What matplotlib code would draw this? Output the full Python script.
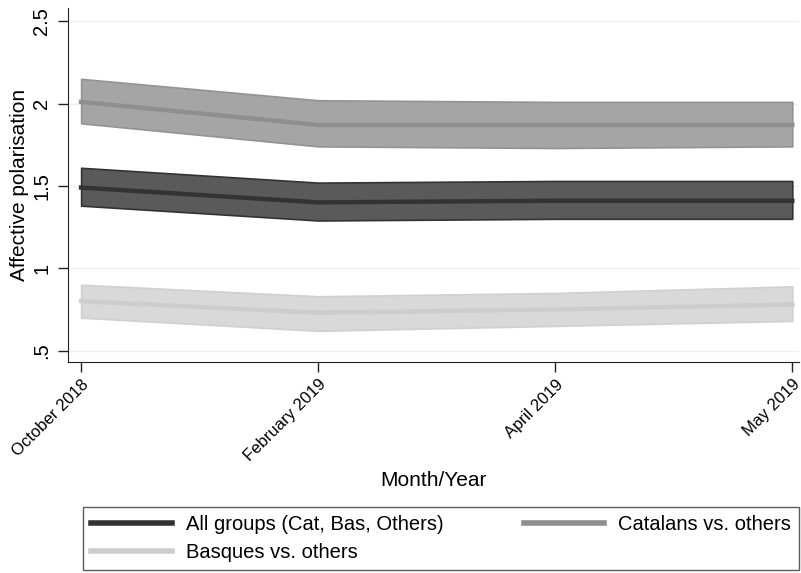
import matplotlib
matplotlib.use("Agg")
import matplotlib.pyplot as plt
from matplotlib.lines import Line2D
import numpy as np

plt.rcParams['font.family'] = ['Liberation Sans', 'DejaVu Sans']

months = ["October 2018", "February 2019", "April 2019", "May 2019"]

all_mean = [1.49, 1.40, 1.41, 1.41]
all_lo = [1.38, 1.29, 1.30, 1.30]
all_hi = [1.61, 1.52, 1.53, 1.53]

cat_mean = [2.01, 1.87, 1.87, 1.87]
cat_lo = [1.88, 1.74, 1.73, 1.74]
cat_hi = [2.15, 2.02, 2.01, 2.01]

bas_mean = [0.80, 0.73, 0.75, 0.78]
bas_lo = [0.70, 0.62, 0.65, 0.68]
bas_hi = [0.90, 0.83, 0.85, 0.89]

x = np.arange(len(months))

fig = plt.figure(figsize=(8.01, 5.73), dpi=100)
ax = fig.add_axes([0.085, 0.368, 0.913, 0.618])

for yv in [0.5, 1, 1.5, 2, 2.5]:
    ax.axhline(yv, color="#eaf2f3", lw=1, zorder=0)

series = [
    (cat_mean, cat_lo, cat_hi, "#a5a5a5", "#8f8f8f", "#939393"),
    (all_mean, all_lo, all_hi, "#5a5a5a", "#333333", "#333333"),
    (bas_mean, bas_lo, bas_hi, "#d9d9d9", "#cdcdcd", "#d0d0d0"),
]
for m, lo, hi, fill, line, edge in series:
    ax.fill_between(x, lo, hi, facecolor=fill, edgecolor=edge, lw=1.2, zorder=2)
    ax.plot(x, m, color=line, lw=3.2, zorder=3)

ax.set_xlim(-0.055, 3.03)
ax.set_ylim(0.43, 2.58)
ax.set_yticks([0.5, 1, 1.5, 2, 2.5])
ax.set_yticklabels([".5", "1", "1.5", "2", "2.5"], rotation=90, va="center", fontsize=14.5)
ax.set_xticks(x)
ax.set_xticklabels(months, rotation=45, ha="right", rotation_mode="anchor", fontsize=12)
ax.tick_params(length=7, width=1, color="#222222")
ax.tick_params(axis="y", pad=5)
ax.spines["top"].set_visible(False)
ax.spines["right"].set_visible(False)
ax.spines["left"].set_color("#222222")
ax.spines["bottom"].set_color("#222222")
ax.set_ylabel("Affective polarisation", fontsize=15, va="center")
ax.yaxis.set_label_coords(-0.066, 0.5)
ax.set_xlabel("Month/Year", fontsize=15)
ax.xaxis.set_label_coords(0.5, -0.333)
ax.xaxis.label.set_va("center")

# legend, row-major order like the original
handles = [
    Line2D([], [], color="#333333", lw=4),
    Line2D([], [], color="#cdcdcd", lw=4),
    Line2D([], [], color="#8f8f8f", lw=4),
]
labels = ["All groups (Cat, Bas, Others)", "Basques vs. others", "Catalans vs. others"]
leg = fig.legend(handles, labels, ncol=2, loc="lower left",
                 bbox_to_anchor=(0.104, 0.005, 0.894, 0.118), mode="expand",
                 fontsize=14.5, frameon=True, fancybox=False, handlelength=4,
                 handletextpad=0.7, borderaxespad=0, labelspacing=0.45,
                 columnspacing=2, borderpad=0.4)
leg.get_frame().set_edgecolor("#333333")
leg.get_frame().set_linewidth(1)

fig.savefig("out.png", dpi=100)
